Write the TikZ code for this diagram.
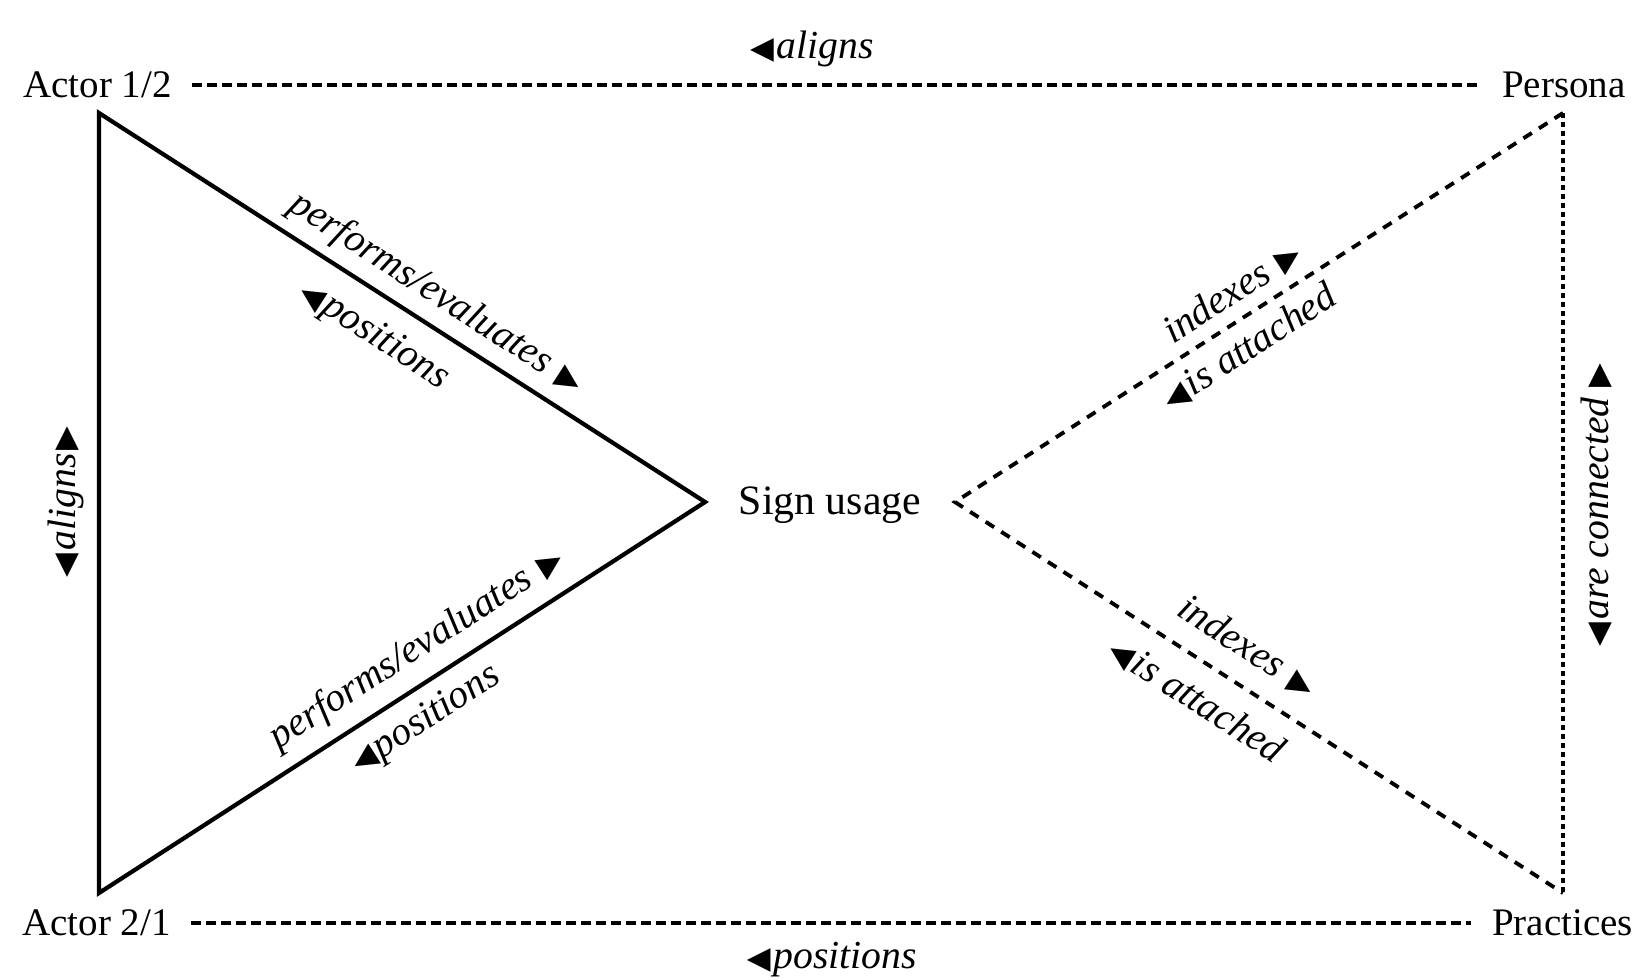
\documentclass[tikz,border=0pt]{standalone}
\usepackage{fontspec}
\setmainfont{Liberation Serif}
\newfontfamily\symfont{DejaVu Sans}
\newcommand\tril{{\symfont\fontsize{8.8}{9}\selectfont ◀}\kern0.8pt}
\newcommand\trir{\kern0.8pt{\symfont\fontsize{8.8}{9}\selectfont ▶}}
\begin{document}
\begin{tikzpicture}[x=0.1mm,y=-0.1mm,
  mainlbl/.style={font=\fontsize{11.1}{13}\selectfont, inner xsep=2mm, inner ysep=0pt, text height=7.3pt, text depth=0pt},
  lab/.style={font=\fontsize{11.3}{13}\selectfont\itshape, inner sep=0pt},
  solidline/.style={line width=1.2pt, line join=miter},
  dashline/.style={line width=1.1pt, dash pattern=on 0.95mm off 0.55mm},
  diagdash/.style={line width=1.1pt, dash pattern=on 1mm off 0.85mm},
  dotline/.style={line width=1.1pt, dash pattern=on 0.5mm off 0.4mm}]
\useasboundingbox (0,0) rectangle (1637,980);
% main nodes
\node[mainlbl] (a12) at (97.5,85) {Actor 1/2};
\node[mainlbl] (per) at (1564,85) {Persona};
\node[mainlbl] (a21) at (96.5,923) {Actor 2/1};
\node[mainlbl] (pra) at (1562.5,923) {Practices};
\node[mainlbl, font=\fontsize{11.9}{14}\selectfont, inner xsep=3.3mm] (sign) at (830,502) {Sign usage};
% vertices
\coordinate (A1) at (99,113);
\coordinate (A2) at (99,893);
\coordinate (P1) at (1563,113);
\coordinate (P2) at (1563,893);
% connectors
\draw[solidline] (A1) -- (sign.west) -- (A2) -- cycle;
\draw[diagdash] (P1) -- (sign.east) -- (P2);
\draw[dotline] (P1) -- (P2);
\draw[dashline] (a12) -- (per);
\draw[dashline] (a21) -- (pra);
% labels
\node[lab] (ltop) at (812,49) {\tril aligns};
\node[lab] (lbot) at (832,960) {\tril positions};
\node[lab, rotate=90] (lleft) at (66,502) {\tril aligns\trir};
\node[lab, rotate=90] (lright) at (1597,505) {\tril are connected\,\trir};
\node[lab, rotate=-32.76] (ul1) at (436,294) {performs/evaluates \trir};
\node[lab, rotate=-32.76] (ul2) at (374,336) {\tril positions};
\node[lab, rotate=32.76] (ll1) at (417,649) {performs/evaluates \trir};
\node[lab, rotate=32.76] (ll2) at (426,720) {\tril positions};
\node[lab, rotate=32.76] (ur1) at (1232,292) {indexes \trir};
\node[lab, rotate=32.76] (ur2) at (1249,347) {\tril is attached};
\node[lab, rotate=-32.76] (lr1) at (1247,647) {indexes \trir};
\node[lab, rotate=-32.76] (lr2) at (1197,700) {\tril is attached};
\end{tikzpicture}
\end{document}
